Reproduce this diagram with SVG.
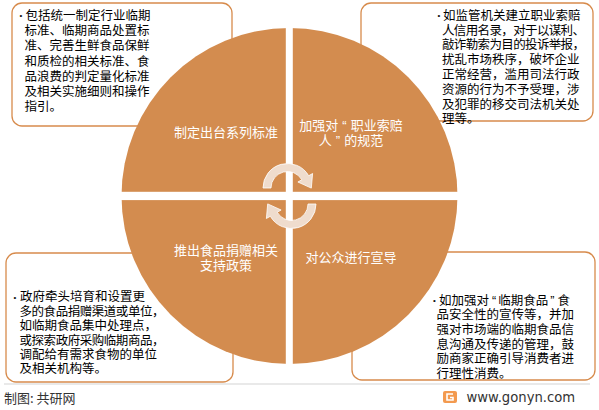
<svg xmlns="http://www.w3.org/2000/svg" width="599" height="410" viewBox="0 0 599 410">
<style>
.box{fill:#fff;stroke:#D78B4C;stroke-width:1.3}
.bt{font-family:"Liberation Sans","Noto Sans CJK SC",sans-serif;font-size:12.5px;fill:#000}
.bul{font-family:"Liberation Sans",sans-serif;font-size:8px;fill:#111}
.lbl{font-family:"Liberation Sans","Noto Sans CJK SC",sans-serif;font-size:13px;fill:#fff;text-anchor:middle}
.arr{fill:#EFDCCD;stroke:#fff;stroke-width:1;stroke-opacity:0.8}
.foot{font-family:"Noto Sans CJK SC","Noto Sans",sans-serif;font-size:13px;fill:#333}
</style>
<rect width="599" height="410" fill="#fff"/>
<g id="box-tl">
<rect class="box" x="12" y="3" width="220" height="123" rx="10"/>
<text class="bul" x="19.5" y="18">•</text>
<text class="bt"><tspan x="25.5" y="20">包括统一制定行业临期</tspan><tspan x="24.5" y="35.2">标准、临期商品处置标</tspan><tspan x="24.5" y="50.4">准、完善生鲜食品保鲜</tspan><tspan x="24.5" y="65.6">和质检的相关标准、食</tspan><tspan x="24.5" y="80.8">品浪费的判定量化标准</tspan><tspan x="24.5" y="96">及相关实施细则和操作</tspan><tspan x="24.5" y="111.2">指引。</tspan></text>
</g>
<g id="box-tr">
<rect class="box" x="361" y="3" width="232" height="118" rx="10"/>
<text class="bul" x="437.5" y="18">•</text>
<text class="bt" x="443" y="19.7">如监管机关建立职业索赔</text>
<text class="bt" x="442" y="34.5" textLength="143" lengthAdjust="spacing">人信用名录，对于以谋利、</text>
<text class="bt" x="442" y="49.3" textLength="143" lengthAdjust="spacing">敲诈勒索为目的投诉举报，</text>
<text class="bt"><tspan x="442" y="64.1">扰乱市场秩序，破坏企业</tspan><tspan x="442" y="78.9">正常经营，滥用司法行政</tspan><tspan x="442" y="93.7">资源的行为不予受理，涉</tspan><tspan x="442" y="108.5">及犯罪的移交司法机关处</tspan><tspan x="442" y="123.3">理等。</tspan></text>
</g>
<g id="box-bl">
<rect class="box" x="6" y="253" width="227" height="129" rx="10"/>
<text class="bul" x="13.5" y="299.5">•</text>
<text class="bt" x="20" y="301.4">政府牵头培育和设置更</text>
<text class="bt" x="19.5" y="315.8" textLength="145" lengthAdjust="spacing">多的食品捐赠渠道或单位，</text>
<text class="bt" x="19.5" y="330.2">如临期食品集中处理点，</text>
<text class="bt" x="19.5" y="344.6" textLength="145" lengthAdjust="spacing">或探索政府采购临期商品，</text>
<text class="bt"><tspan x="19.5" y="359">调配给有需求食物的单位</tspan><tspan x="19.5" y="373.4">及相关机构等。</tspan></text>
</g>
<g id="box-br">
<rect class="box" x="352" y="252" width="243" height="128" rx="10"/>
<text class="bul" x="433" y="303">•</text>
<text class="bt" x="439" y="304.7">如加强对<tspan dx="3">“</tspan><tspan dx="2">临期食品</tspan><tspan dx="2">”</tspan><tspan dx="3">食</tspan></text>
<text class="bt"><tspan x="436.5" y="319.3">品安全性的宣传等，并加</tspan><tspan x="436.5" y="333.9">强对市场端的临期食品信</tspan><tspan x="436.5" y="348.5">息沟通及传递的管理，鼓</tspan><tspan x="436.5" y="363.1">励商家正确引导消费者进</tspan><tspan x="436.5" y="377.7">行理性消费。</tspan></text>
</g>
<g id="wheel">
<circle cx="289.5" cy="196" r="168" fill="#D38C4F"/>
<rect x="285.8" y="20" width="7" height="352" fill="#fff"/>
<rect x="115" y="191.8" width="350" height="8.3" fill="#fff"/>
</g>
<g id="node-standards"><text class="lbl" x="226" y="136.5">制定出台系列标准</text></g>
<g id="node-claimants"><text class="lbl"><tspan x="351" y="130">加强对<tspan dx="4">“</tspan><tspan dx="4">职业索赔</tspan></tspan><tspan x="351" y="145">人<tspan dx="4">”</tspan><tspan dx="4">的规范</tspan></tspan></text></g>
<g id="node-donation"><text class="lbl"><tspan x="226" y="255">推出食品捐赠相关</tspan><tspan x="226" y="270">支持政策</tspan></text></g>
<g id="node-publicity"><text class="lbl" x="351" y="262">对公众进行宣导</text></g>
<g id="connectors">
<path class="arr" d="M263,188 A24.5,24.5 0 0 1 308.7,175.75 L312.6,173.5 L311.3,188.1 L297.9,182 L301.8,179.75 A16.5,16.5 0 0 0 271,188 Z"/>
<path class="arr" transform="rotate(180 289.5 196)" d="M263,188 A24.5,24.5 0 0 1 308.7,175.75 L312.6,173.5 L311.3,188.1 L297.9,182 L301.8,179.75 A16.5,16.5 0 0 0 271,188 Z"/>
</g>
<g id="footer">
<line x1="4" y1="384" x2="590" y2="384" stroke="#e9e9e9" stroke-width="2"/>
<text class="foot" x="4" y="403">制图: 共研网</text>
<rect x="443" y="391" width="14" height="12" rx="2" fill="#F39A4F"/>
<path d="M453,394 H447 V400 H453 V397.5 H450" fill="none" stroke="#fff" stroke-width="1.6"/>
<text x="466.5" y="401.5" font-family="'DejaVu Sans','Liberation Sans',sans-serif" font-size="13.2" fill="#333">www.gonyn.com</text>
</g>
</svg>
